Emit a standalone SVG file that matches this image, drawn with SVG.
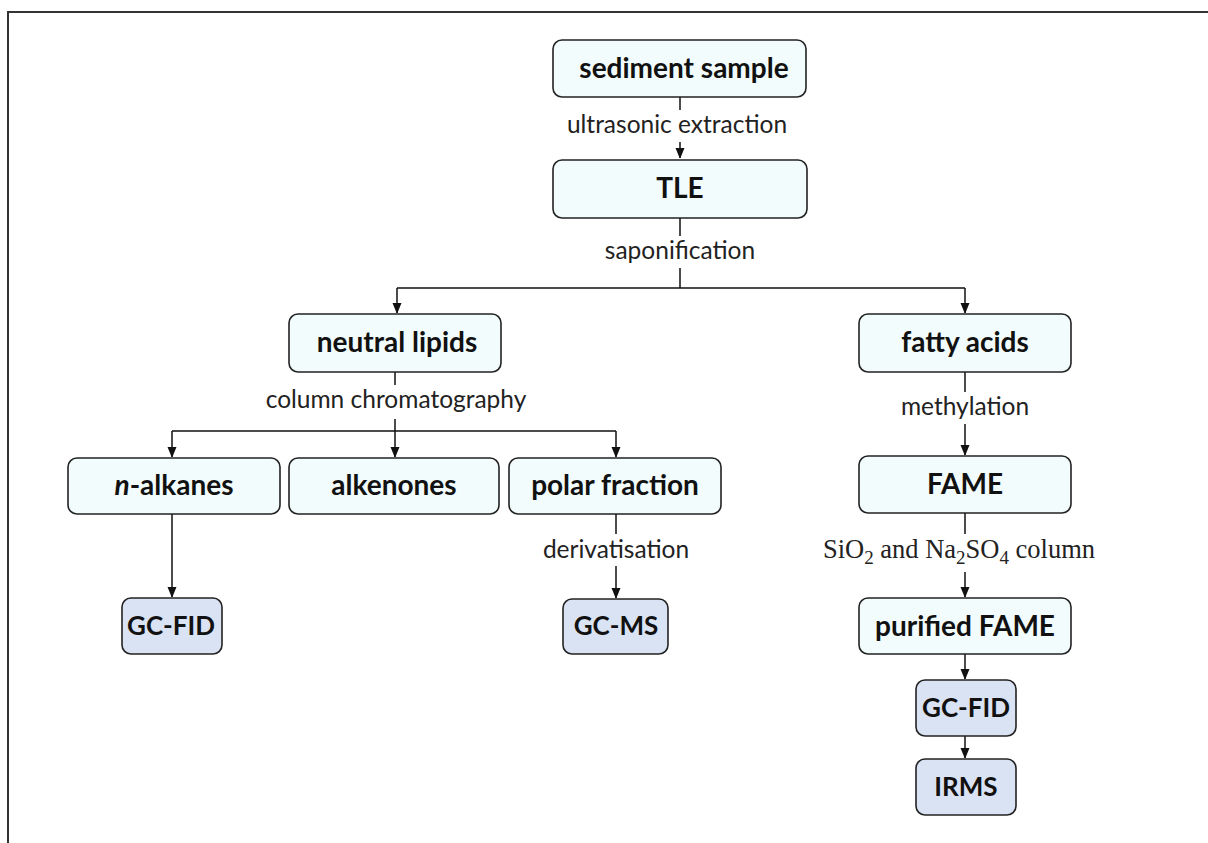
<svg xmlns="http://www.w3.org/2000/svg" width="1208" height="843" viewBox="0 0 1208 843">
<defs>
<marker id="arr" markerWidth="10" markerHeight="12" refX="10" refY="5" orient="auto" markerUnits="userSpaceOnUse">
<path d="M0,0.5 L11,5 L0,9.5 z" fill="#111"/>
</marker>
<style>
.n rect{fill:#F2FCFC;stroke:#222;stroke-width:1.6}
.m rect{fill:#DAE3F3;stroke:#222;stroke-width:1.6}
.n text,.m text{font-family:Lato,"Open Sans",sans-serif;font-weight:bold;font-size:28px;fill:#111;text-anchor:middle}
.m text{font-size:26px}
.lbl{font-family:Lato,"Open Sans",sans-serif;font-size:24.5px;fill:#222;text-anchor:middle}
.sf{font-family:"Liberation Serif","DejaVu Serif",serif;font-size:26.5px;fill:#222;text-anchor:middle}
#connectors path{fill:none;stroke:#111;stroke-width:1.5}
.bg{fill:#fff}
</style>
</defs>
<rect width="1208" height="843" fill="#fff"/>
<path d="M8,843 V12 H1208" fill="none" stroke="#333" stroke-width="2"/>
<g id="connectors">
<path d="M680,97 V158" marker-end="url(#arr)"/>
<path d="M680,218 V288 M397,288 H965"/>
<path d="M397,288 V313" marker-end="url(#arr)"/>
<path d="M965,288 V313" marker-end="url(#arr)"/>
<path d="M395,372 V431 M172,431 H616"/>
<path d="M172,431 V457" marker-end="url(#arr)"/>
<path d="M395,431 V457" marker-end="url(#arr)"/>
<path d="M616,431 V457" marker-end="url(#arr)"/>
<path d="M172,514 V597" marker-end="url(#arr)"/>
<path d="M616,514 V598" marker-end="url(#arr)"/>
<path d="M965,372 V455" marker-end="url(#arr)"/>
<path d="M965,513 V597" marker-end="url(#arr)"/>
<path d="M965,654 V679" marker-end="url(#arr)"/>
<path d="M965,736 V758" marker-end="url(#arr)"/>
</g>
<g id="labels">
<rect class="bg" x="555" y="110" width="250" height="32"/>
<text class="lbl" x="677" y="133">ultrasonic extraction</text>
<rect class="bg" x="595" y="236" width="170" height="32"/>
<text class="lbl" x="680" y="259">saponification</text>
<rect class="bg" x="250" y="385" width="295" height="34"/>
<text class="lbl" x="396" y="408">column chromatography</text>
<rect class="bg" x="530" y="534" width="170" height="32"/>
<text class="lbl" x="616" y="558">derivatisation</text>
<rect class="bg" x="890" y="392" width="150" height="32"/>
<text class="lbl" x="965" y="415">methylation</text>
<rect class="bg" x="810" y="534" width="300" height="38"/>
<text class="sf" x="959" y="558">SiO<tspan font-size="19" dy="6">2</tspan><tspan dy="-6"> and Na</tspan><tspan font-size="19" dy="6">2</tspan><tspan dy="-6">SO</tspan><tspan font-size="19" dy="6">4</tspan><tspan dy="-6"> column</tspan></text>
</g>
<g id="sediment" class="n"><rect x="553" y="40" width="253" height="57" rx="9"/><text x="684" y="78">sediment sample</text></g>
<g id="tle" class="n"><rect x="553" y="160" width="254" height="58" rx="9"/><text x="680" y="198">TLE</text></g>
<g id="neutral" class="n"><rect x="289" y="314" width="212" height="58" rx="9"/><text x="397" y="352">neutral lipids</text></g>
<g id="fatty" class="n"><rect x="859" y="314" width="212" height="58" rx="9"/><text x="965" y="352">fatty acids</text></g>
<g id="nalkanes" class="n"><rect x="68" y="458" width="212" height="56" rx="9"/><text x="174" y="495"><tspan font-style="italic">n</tspan>-alkanes</text></g>
<g id="alkenones" class="n"><rect x="289" y="458" width="210" height="56" rx="9"/><text x="394" y="495">alkenones</text></g>
<g id="polar" class="n"><rect x="509" y="458" width="212" height="56" rx="9"/><text x="615" y="495">polar fraction</text></g>
<g id="fame" class="n"><rect x="859" y="456" width="212" height="57" rx="9"/><text x="965" y="494">FAME</text></g>
<g id="purified" class="n"><rect x="859" y="598" width="212" height="56" rx="9"/><text x="965" y="636">purified FAME</text></g>
<g id="gcfid1" class="m"><rect x="122" y="598" width="100" height="56" rx="9"/><text x="171" y="635">GC-FID</text></g>
<g id="gcms" class="m"><rect x="563" y="599" width="105" height="55" rx="9"/><text x="616" y="635">GC-MS</text></g>
<g id="gcfid2" class="m"><rect x="916" y="680" width="100" height="56" rx="9"/><text x="966" y="717">GC-FID</text></g>
<g id="irms" class="m"><rect x="916" y="759" width="100" height="56" rx="9"/><text x="966" y="796">IRMS</text></g>
</svg>
